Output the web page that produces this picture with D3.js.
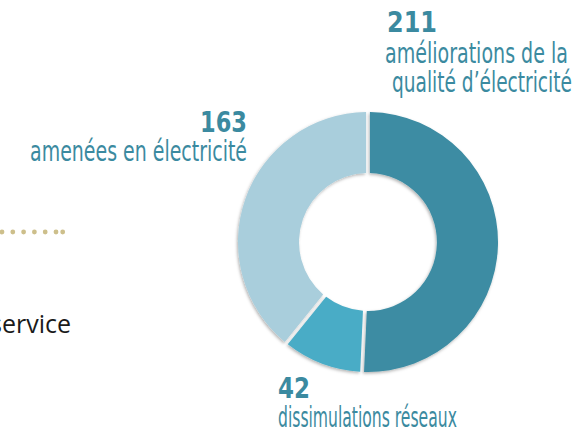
<!DOCTYPE html>
<html>
<head>
<meta charset="utf-8">
<script src="https://cdn.jsdelivr.net/npm/d3@7"></script>
<style>
    body { margin: 0; background: #fff; }
    svg { display: block; }
    .num { font-family: "Liberation Sans Narrow", "DejaVu Sans Condensed", sans-serif; font-weight: bold; fill: #3b8aa0; }
    .lbl { font-family: "Liberation Sans Narrow", "DejaVu Sans Condensed", sans-serif; fill: #3b8aa0; }
</style>
</head>
<body>
<div id="chart"></div>
<script>
// data
var categories = ["améliorations de la qualité d’électricité", "dissimulations réseaux", "amenées en électricité"];
var values = [211, 42, 163];
var colors = ["#3d8ca3", "#4aacc6", "#a9cedc"];

// label lines (text only, placement below)
var labelLines = [
    ["améliorations de la", "qualité d’électricité"],
    ["dissimulations réseaux"],
    ["amenées en électricité"]
];

var width = 580, height = 436;
var cx = 368, cy = 242;
var outerR = 130, innerR = 69;

var svg = d3.select("#chart")
    .append("svg")
    .attr("width", width)
    .attr("height", height);

var defs = svg.append("defs");
var shadow = defs.append("filter")
    .attr("id", "shadow")
    .attr("x", "-20%").attr("y", "-20%")
    .attr("width", "140%").attr("height", "140%");
shadow.append("feDropShadow")
    .attr("dx", -1)
    .attr("dy", 1.5)
    .attr("stdDeviation", 1.5)
    .attr("flood-color", "#000")
    .attr("flood-opacity", 0.3);

// bit of the neighbouring panel on the left
var dotX = d3.scaleLinear().domain([0, 5]).range([2, 56]);
svg.append("g")
    .selectAll("circle")
    .data([0, 1, 2, 3, 4, 5, 5.62])
    .enter().append("circle")
    .attr("cx", d => dotX(d))
    .attr("cy", 232)
    .attr("r", 2.4)
    .attr("fill", "#cdbf8b");

svg.append("text")
    .attr("x", 71)
    .attr("y", 333)
    .attr("text-anchor", "end")
    .attr("font-family", "'Open Sans', sans-serif")
    .attr("font-size", 25)
    .attr("fill", "#1a1a1a")
    .text("service");

// donut
var pie = d3.pie().sort(null).value(d => d).startAngle(0).endAngle(2 * Math.PI);
var arc = d3.arc().innerRadius(innerR).outerRadius(outerR).padAngle(0.026);

var g = svg.append("g")
    .attr("transform", "translate(" + cx + "," + cy + ")");

g.selectAll("path")
    .data(pie(values))
    .enter().append("path")
    .attr("d", arc)
    .attr("fill", (d, i) => colors[i])
    .attr("filter", "url(#shadow)");

// squeeze a text horizontally to a target width (condensed look)
function squeezed(cls, x, y, anchor, size, w, str) {
    var t = svg.append("g")
        .attr("transform", "translate(" + x + "," + y + ")")
        .append("text")
        .attr("class", cls)
        .attr("text-anchor", anchor)
        .attr("font-size", size)
        .text(str);
    var k = w / t.node().getComputedTextLength();
    t.attr("transform", "scale(" + k + ",1)");
}

// labels
var labels = [
    { x: 387, anchor: "start", y: 32, lines: [{ x: 385, y: 63, w: 183 }, { x: 392, y: 92, w: 180 }], nw: 50 },
    { x: 278, anchor: "start", y: 398, lines: [{ x: 278, y: 427, w: 179 }], nw: 32 },
    { x: 247, anchor: "end", y: 132, lines: [{ x: 247, y: 161, w: 217 }], nw: 47 }
];

labels.forEach(function(l, i) {
    squeezed("num", l.x, l.y, l.anchor, 29, l.nw, values[i]);
    l.lines.forEach(function(p, j) {
        squeezed("lbl", p.x, p.y, l.anchor, 28, p.w, labelLines[i][j]);
    });
});
</script>
</body>
</html>
